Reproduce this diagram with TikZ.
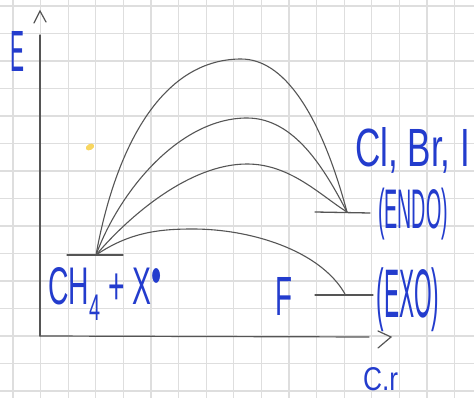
\documentclass[tikz,border=0pt]{standalone}
\usepackage{fontspec}
\usepackage{graphicx}
\setmainfont{Liberation Sans}
\definecolor{ink}{RGB}{35,60,205}
\definecolor{pencil}{RGB}{85,85,85}
\definecolor{gridc}{RGB}{222,222,222}
\definecolor{stain}{RGB}{248,214,96}
\newcommand{\hw}[3]{\resizebox{#1pt}{#2pt}{#3}}
\newcommand{\hwt}[3]{\resizebox*{#1pt}{#2pt}{#3}}
\tikzset{
  gridline/.style={draw=gridc, line width=1.1pt},
  axisline/.style={draw=pencil, line width=1.2pt, line cap=round},
  level/.style={draw=pencil, line width=1.3pt, line cap=round},
  pathline/.style={draw=pencil, line width=1.1pt, line cap=round},
  lbl/.style={text=ink, inner sep=0pt, font=\fontsize{20}{22}\selectfont},
}
\begin{document}
\begin{tikzpicture}[x=1pt,y=-1pt]
\useasboundingbox (0,0) rectangle (474,398);
\fill[white] (0,0) rectangle (474,398);
% graph paper
\foreach \k in {0,...,16} { \draw[gridline] ({13+27.6*\k},0) -- ({13+27.6*\k},398); }
\foreach \k in {-2,...,12} { \draw[gridline] (0,{336-27.5*\k}) -- (474,{336-27.5*\k}); }
% stain
\fill[stain, rotate around={30:(90,147)}] (90,147) ellipse (4.5 and 3);
% axes
\coordinate (O) at (40,336);
\coordinate (Ytop) at (40,35);
\coordinate (Xend) at (369,337);
\draw[axisline] (O) -- (Ytop);
\draw[axisline] (34,23) -- (40,11) -- (46,22);
\draw[axisline] (O) -- (Xend);
\draw[axisline] (378,331) -- (391,337) -- (378,348);
% energy levels
\coordinate (R) at (96,255);
\coordinate (P) at (347,212);
\coordinate (PF) at (345,294);
\draw[level] (67,255) -- (123,255);
\draw[level] (315,212) -- (370,213);
\draw[level] (315,295) -- (373,295);
% reaction paths
\coordinate (T1) at (240,59);
\coordinate (T2) at (247,118);
\coordinate (T3) at (247,164);
\coordinate (T4) at (193,229);
\draw[pathline] (R) .. controls (115,150) and (160,60) .. (T1)
                    .. controls (290,58) and (325,130) .. (P);
\draw[pathline] (R) .. controls (120,190) and (180,118) .. (T2)
                    .. controls (295,118) and (325,170) .. (P);
\draw[pathline] (R) .. controls (130,215) and (190,164) .. (T3)
                    .. controls (290,164) and (320,195) .. (P);
\draw[pathline] (R) .. controls (130,232) and (160,229) .. (T4)
                    .. controls (250,229) and (320,250) .. (PF);
% labels
\node[lbl, anchor=base west] (E) at (10,72) {\hw{14}{40}{E}};
\node[lbl, anchor=base west] (react) at (48,305) {\hw{114}{37}{CH\raisebox{-0.3em}{\fontsize{14}{14}\selectfont 4} + X$^{\bullet}$}};
\node[lbl, anchor=base west] (F) at (275,315) {\hw{17}{38}{F}};
\node[lbl, anchor=base west] (hal) at (355,167) {\hw{115}{39}{Cl, Br, I}};
\node[lbl, anchor=center] (endo) at (413,214) {\hwt{70}{52}{(ENDO)}};
\node[lbl, anchor=center] (exo) at (408,300) {\hwt{63}{64}{(EXO)}};
\node[lbl, anchor=base west] (cr) at (363,390) {\hw{35}{23}{C.r}};
\end{tikzpicture}
\end{document}
